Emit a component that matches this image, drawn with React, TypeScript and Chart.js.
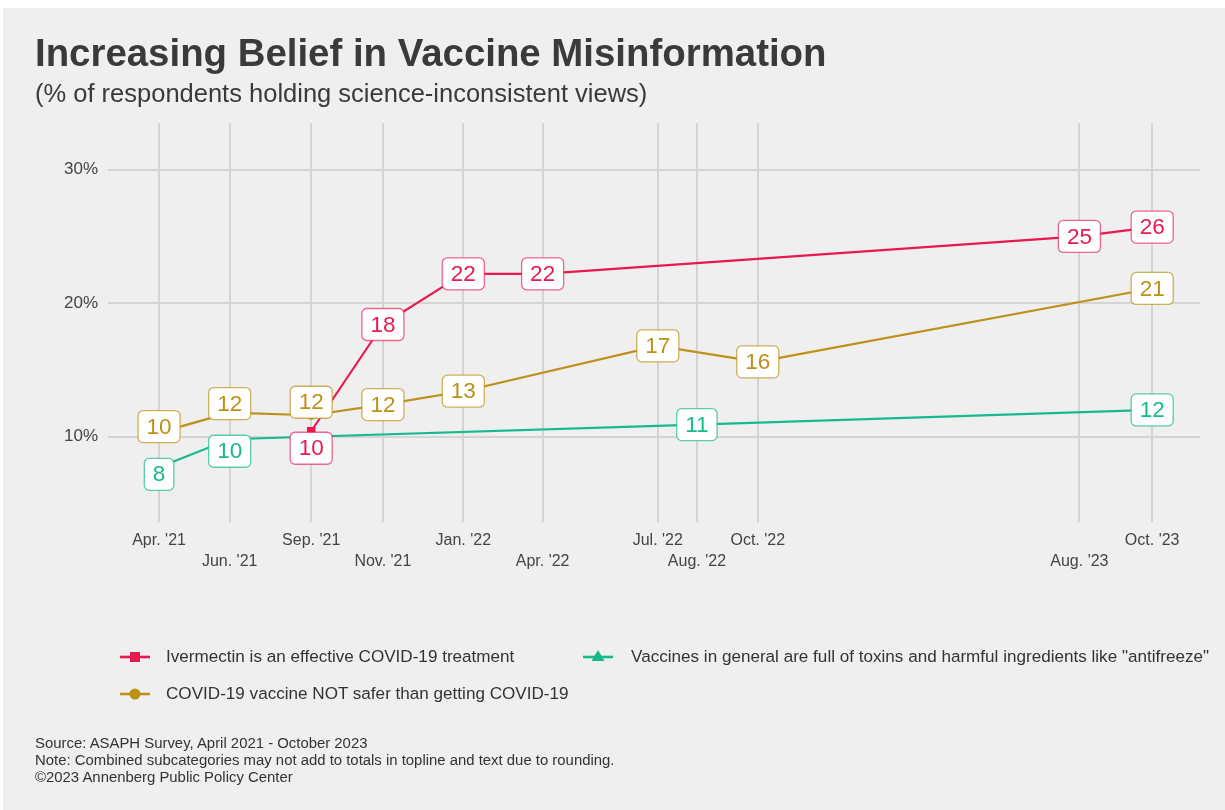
import React, { useEffect, useRef } from "react";
import { Chart, registerables } from "chart.js";

Chart.register(...registerables);

// Survey fielding dates and their axis labels
const surveyDates = [
  "2021-04-20", "2021-06-24", "2021-09-07", "2021-11-12", "2022-01-25", "2022-04-08",
  "2022-07-23", "2022-08-28", "2022-10-23", "2023-08-15", "2023-10-21",
];
const tickLabels = [
  "Apr. '21", "Jun. '21", "Sep. '21", "Nov. '21", "Jan. '22", "Apr. '22",
  "Jul. '22", "Aug. '22", "Oct. '22", "Aug. '23", "Oct. '23",
];
const yTicks = [10, 20, 30];

// Ivermectin is an effective COVID-19 treatment
const ivermectinDates = ["2021-09-07", "2021-11-12", "2022-01-25", "2022-04-08", "2023-08-15", "2023-10-21"];
const ivermectinValues = [10.4, 18.4, 22.2, 22.2, 25.0, 25.7];

// COVID-19 vaccine NOT safer than getting COVID-19
const notSaferDates = ["2021-04-20", "2021-06-24", "2021-09-07", "2021-11-12", "2022-01-25", "2022-07-23", "2022-10-23", "2023-10-21"];
const notSaferValues = [10.3, 11.8, 11.6, 12.4, 13.4, 16.8, 15.6, 21.1];

// Vaccines in general are full of toxins ...
const toxinsDates = ["2021-04-20", "2021-06-24", "2022-08-28", "2023-10-21"];
const toxinsValues = [7.7, 9.8, 10.9, 12.0];

// Label offsets (px) so overlapping value boxes stay readable
const ivermectinNudge = [[0, 17], [0, 0], [0, 0], [0, 0], [0, 0], [0, 0]];
const notSaferNudge = [[0, -6], [0, -9], [0, -13], [0, 0], [0, 0], [0, 0], [0, 0], [0, 0]];
const toxinsNudge = [[0, 7], [0, 12], [0, 0], [0, 0]];

const RED = "#E8194F";
const GOLD = "#BE9018";
const TEAL = "#16BA8C";
const FONT = '"Liberation Sans", Arial, Helvetica, sans-serif';
const TEXT = "#3a3a3a";

const day0 = Date.parse(surveyDates[0]);
const dayOf = (iso: string) => (Date.parse(iso) - day0) / 86400000;
const points = (dates: string[], values: number[]) =>
  dates.map((d, i) => ({ x: dayOf(d), y: values[i] }));

const valueLabels = {
  id: "valueLabels",
  afterDatasetsDraw(chart: any) {
    const ctx = chart.ctx;
    ctx.save();
    ctx.font = `22.5px ${FONT}`;
    ctx.textAlign = "center";
    ctx.textBaseline = "middle";
    chart.data.datasets.forEach((ds: any, i: number) => {
      const meta = chart.getDatasetMeta(i);
      meta.data.forEach((pt: any, j: number) => {
        const text = String(Math.round(ds.data[j].y));
        const [dx, dy] = ds.labelNudge[j];
        const cx = pt.x + dx;
        const cy = pt.y + dy;
        const w = ctx.measureText(text).width + 17;
        const h = 32;
        ctx.beginPath();
        ctx.roundRect(cx - w / 2, cy - h / 2, w, h, 5);
        ctx.fillStyle = "#ffffff";
        ctx.fill();
        ctx.lineWidth = 1.3;
        ctx.strokeStyle = ds.labelBorder;
        ctx.stroke();
        ctx.fillStyle = ds.borderColor;
        ctx.fillText(text, cx, cy + 1);
      });
    });
    ctx.restore();
  },
};

function LegendMark({ color, shape }: { color: string; shape: string }) {
  return (
    <svg width={32} height={20} style={{ display: "block" }}>
      <line x1={1} y1={10} x2={31} y2={10} stroke={color} strokeWidth={2.6} />
      {shape === "rect" && <rect x={11} y={5} width={10} height={10} fill={color} />}
      {shape === "circle" && <circle cx={16} cy={10} r={5.5} fill={color} />}
      {shape === "triangle" && <polygon points="16,3 22.5,14 9.5,14" fill={color} />}
    </svg>
  );
}

export default function App() {
  const canvasRef = useRef<HTMLCanvasElement | null>(null);

  useEffect(() => {
    document.body.style.margin = "0";
    const canvas = canvasRef.current;
    if (!canvas) return;
    const chart = new Chart(canvas, {
      type: "line",
      data: {
        datasets: [
          {
            label: "Ivermectin is an effective COVID-19 treatment",
            data: points(ivermectinDates, ivermectinValues),
            borderColor: RED,
            backgroundColor: RED,
            borderWidth: 2.2,
            pointStyle: "rect",
            pointRadius: 6,
            pointBorderWidth: 0,
            labelNudge: ivermectinNudge,
            labelBorder: "rgba(232,25,79,0.65)",
          } as any,
          {
            label: "COVID-19 vaccine NOT safer than getting COVID-19",
            data: points(notSaferDates, notSaferValues),
            borderColor: GOLD,
            backgroundColor: GOLD,
            borderWidth: 2.2,
            pointStyle: "circle",
            pointRadius: 4.5,
            pointBorderWidth: 0,
            labelNudge: notSaferNudge,
            labelBorder: "rgba(190,144,24,0.7)",
          } as any,
          {
            label: 'Vaccines in general are full of toxins and harmful ingredients like "antifreeze"',
            data: points(toxinsDates, toxinsValues),
            borderColor: TEAL,
            backgroundColor: TEAL,
            borderWidth: 2.2,
            pointStyle: "triangle",
            pointRadius: 5,
            pointBorderWidth: 0,
            labelNudge: toxinsNudge,
            labelBorder: "rgba(22,186,140,0.7)",
          } as any,
        ],
      },
      options: {
        responsive: false,
        devicePixelRatio: 1,
        animation: false,
        events: [],
        layout: { padding: { left: 0, top: 123, right: 25, bottom: 228 } },
        plugins: {
          legend: { display: false },
          title: { display: false },
          tooltip: { enabled: false },
        },
        scales: {
          x: {
            type: "linear",
            min: -47,
            max: 958,
            afterBuildTicks: (scale: any) => {
              scale.ticks = surveyDates.map((d) => ({ value: dayOf(d) }));
            },
            afterFit: (scale: any) => {
              scale.height = 60;
            },
            ticks: {
              autoSkip: false,
              maxRotation: 0,
              minRotation: 0,
              padding: 8,
              color: "#444444",
              font: { family: FONT, size: 16, lineHeight: 1.3 },
              callback: (_v: any, i: number) => (i % 2 === 0 ? [tickLabels[i], ""] : ["", tickLabels[i]]),
            },
            grid: { color: "#d4d4d4", lineWidth: 2, drawTicks: false },
            border: { display: false },
          },
          y: {
            type: "linear",
            min: 3.6,
            max: 33.5,
            afterBuildTicks: (scale: any) => {
              scale.ticks = yTicks.map((v) => ({ value: v }));
            },
            afterFit: (scale: any) => {
              scale.width = 108;
            },
            ticks: {
              padding: 10,
              color: "#444444",
              font: { family: FONT, size: 17 },
              callback: (v: any) => `${v}%`,
            },
            grid: { color: "#d4d4d4", lineWidth: 2, drawTicks: false },
            border: { display: false },
          },
        },
      } as any,
      plugins: [valueLabels],
    });
    return () => chart.destroy();
  }, []);

  const legendText: React.CSSProperties = {
    fontFamily: FONT,
    fontSize: 17.1,
    color: "#333333",
    lineHeight: "20px",
    whiteSpace: "nowrap",
  };

  return (
    <div style={{ position: "fixed", left: 0, top: 0, width: 1225, height: 810, background: "#ffffff", overflow: "hidden" }}>
      <div style={{ position: "absolute", left: 3, top: 8, width: 1222, height: 802, background: "#efefef" }} />
      <canvas ref={canvasRef} width={1225} height={810} style={{ position: "absolute", left: 0, top: 0, display: "block" }} />
      <div style={{ position: "absolute", left: 35, top: 34, fontFamily: FONT, fontWeight: 700, fontSize: 38.4, lineHeight: 1, color: TEXT, whiteSpace: "nowrap" }}>
        Increasing Belief in Vaccine Misinformation
      </div>
      <div style={{ position: "absolute", left: 35, top: 81, fontFamily: FONT, fontSize: 25.5, lineHeight: 1, color: TEXT, whiteSpace: "nowrap" }}>
        (% of respondents holding science-inconsistent views)
      </div>

      <div style={{ position: "absolute", left: 119, top: 647, display: "flex", alignItems: "center" }}>
        <LegendMark color={RED} shape="rect" />
        <span style={{ ...legendText, marginLeft: 15 }}>Ivermectin is an effective COVID-19 treatment</span>
      </div>
      <div style={{ position: "absolute", left: 119, top: 684, display: "flex", alignItems: "center" }}>
        <LegendMark color={GOLD} shape="circle" />
        <span style={{ ...legendText, marginLeft: 15 }}>COVID-19 vaccine NOT safer than getting COVID-19</span>
      </div>
      <div style={{ position: "absolute", left: 582, top: 647, display: "flex", alignItems: "center" }}>
        <LegendMark color={TEAL} shape="triangle" />
        <span style={{ ...legendText, marginLeft: 17 }}>Vaccines in general are full of toxins and harmful ingredients like "antifreeze"</span>
      </div>

      <div style={{ position: "absolute", left: 35, top: 735, fontFamily: FONT, fontSize: 14.9, lineHeight: "17px", color: "#333333", whiteSpace: "nowrap" }}>
        <div>Source: ASAPH Survey, April 2021 - October 2023</div>
        <div>Note: Combined subcategories may not add to totals in topline and text due to rounding.</div>
        <div>©2023 Annenberg Public Policy Center</div>
      </div>
    </div>
  );
}
